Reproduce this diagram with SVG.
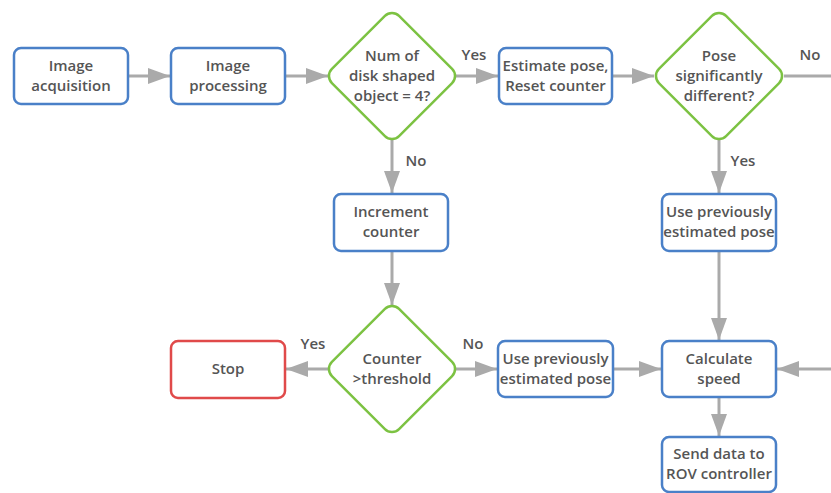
<svg xmlns="http://www.w3.org/2000/svg" width="831" height="493" viewBox="0 0 831 493">
<defs>
<style>
.box{fill:#fff;stroke:#4a80c8;stroke-width:2.5}
.stop{fill:#fff;stroke:#e04a4a;stroke-width:2.5}
.dia{fill:#fff;stroke:#7cc242;stroke-width:2.5}
.t{font-family:"Open Sans","Liberation Sans",sans-serif;font-weight:600;font-size:15px;fill:#555;text-anchor:middle}
.c{stroke:#aaa;stroke-width:3;fill:none}
</style>
<marker id="ah" markerWidth="22" markerHeight="16" refX="22" refY="8" orient="auto" markerUnits="userSpaceOnUse">
<path d="M0,0 L22,8 L0,16 Z" fill="#aaa"/>
</marker>
</defs>
<rect width="831" height="493" fill="#fff"/>
<g id="connectors">
<line class="c" x1="128" y1="76" x2="170" y2="76" marker-end="url(#ah)"/>
<line class="c" x1="285" y1="76" x2="328" y2="76" marker-end="url(#ah)"/>
<line class="c" x1="456" y1="76" x2="498" y2="76" marker-end="url(#ah)"/>
<line class="c" x1="612" y1="76" x2="654" y2="76" marker-end="url(#ah)"/>
<line class="c" x1="784" y1="76" x2="831" y2="76"/>
<line class="c" x1="392" y1="140" x2="392" y2="193" marker-end="url(#ah)"/>
<line class="c" x1="719" y1="140" x2="719" y2="193" marker-end="url(#ah)"/>
<line class="c" x1="392" y1="251" x2="392" y2="305" marker-end="url(#ah)"/>
<line class="c" x1="719" y1="251" x2="719" y2="340" marker-end="url(#ah)"/>
<line class="c" x1="328" y1="369" x2="286" y2="369" marker-end="url(#ah)"/>
<line class="c" x1="456" y1="369" x2="497" y2="369" marker-end="url(#ah)"/>
<line class="c" x1="613" y1="369" x2="661" y2="369" marker-end="url(#ah)"/>
<line class="c" x1="831" y1="369" x2="777" y2="369" marker-end="url(#ah)"/>
<line class="c" x1="719" y1="397" x2="719" y2="436" marker-end="url(#ah)"/>
<text class="t" x="474" y="60">Yes</text>
<text class="t" x="810" y="60">No</text>
<text class="t" x="416" y="166">No</text>
<text class="t" x="743" y="166">Yes</text>
<text class="t" x="313" y="349">Yes</text>
<text class="t" x="473" y="349">No</text>
</g>
<g id="acq">
<rect class="box" x="14" y="48" width="114" height="56" rx="7"/>
<text class="t" x="71" y="71">Image</text>
<text class="t" x="71" y="91">acquisition</text>
</g>
<g id="proc">
<rect class="box" x="171" y="48" width="114" height="56" rx="7"/>
<text class="t" x="228" y="71">Image</text>
<text class="t" x="228" y="91">processing</text>
</g>
<g id="dec1">
<rect class="dia" x="344.5" y="28.5" width="95" height="95" rx="10" transform="rotate(45 392 76)"/>
<text class="t" x="392" y="61">Num of</text>
<text class="t" x="392" y="81">disk shaped</text>
<text class="t" x="392" y="101">object = 4?</text>
</g>
<g id="est">
<rect class="box" x="499" y="48" width="113" height="56" rx="7"/>
<text class="t" x="555.5" y="71">Estimate pose,</text>
<text class="t" x="555.5" y="91">Reset counter</text>
</g>
<g id="dec2">
<rect class="dia" x="671.5" y="28.5" width="95" height="95" rx="10" transform="rotate(45 719 76)"/>
<text class="t" x="719" y="61">Pose</text>
<text class="t" x="719" y="81">significantly</text>
<text class="t" x="719" y="101">different?</text>
</g>
<g id="inc">
<rect class="box" x="334" y="194" width="114" height="57" rx="7"/>
<text class="t" x="391" y="217">Increment</text>
<text class="t" x="391" y="237">counter</text>
</g>
<g id="useprev1">
<rect class="box" x="662" y="194" width="114" height="57" rx="7"/>
<text class="t" x="719" y="217">Use previously</text>
<text class="t" x="719" y="237">estimated pose</text>
</g>
<g id="stop">
<rect class="stop" x="171" y="341" width="114" height="57" rx="7"/>
<text class="t" x="228" y="374">Stop</text>
</g>
<g id="dec3">
<rect class="dia" x="344.5" y="321.5" width="95" height="95" rx="10" transform="rotate(45 392 369)"/>
<text class="t" x="392" y="364">Counter</text>
<text class="t" x="392" y="384">&gt;threshold</text>
</g>
<g id="useprev2">
<rect class="box" x="498" y="341" width="115" height="56" rx="7"/>
<text class="t" x="555.5" y="364">Use previously</text>
<text class="t" x="555.5" y="384">estimated pose</text>
</g>
<g id="speed">
<rect class="box" x="662" y="341" width="114" height="56" rx="7"/>
<text class="t" x="719" y="364">Calculate</text>
<text class="t" x="719" y="384">speed</text>
</g>
<g id="send">
<rect class="box" x="662" y="437" width="114" height="55" rx="7"/>
<text class="t" x="719" y="459">Send data to</text>
<text class="t" x="719" y="479">ROV controller</text>
</g>
</svg>
